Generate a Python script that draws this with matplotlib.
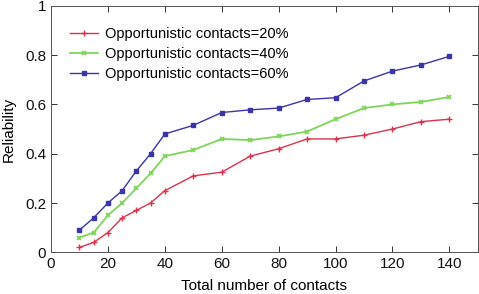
import matplotlib
matplotlib.use("Agg")
import matplotlib.pyplot as plt

plt.rcParams['font.family'] = ['Liberation Sans', 'DejaVu Sans']

contacts = [10, 15, 20, 25, 30, 35, 40, 50, 60, 70, 80, 90, 100, 110, 120, 130, 140]
rel_20 = [0.02, 0.04, 0.08, 0.14, 0.17, 0.20, 0.25, 0.31, 0.325, 0.39, 0.42, 0.46, 0.46, 0.475, 0.50, 0.53, 0.54]
rel_40 = [0.06, 0.08, 0.15, 0.20, 0.26, 0.32, 0.39, 0.415, 0.46, 0.455, 0.47, 0.49, 0.54, 0.585, 0.60, 0.61, 0.63]
rel_60 = [0.09, 0.14, 0.20, 0.25, 0.33, 0.40, 0.48, 0.515, 0.567, 0.578, 0.585, 0.62, 0.627, 0.695, 0.735, 0.76, 0.795]
labels = ['Opportunistic contacts=20%', 'Opportunistic contacts=40%', 'Opportunistic contacts=60%']

fig = plt.figure(figsize=(4.79, 2.94), dpi=100)
ax = fig.add_axes([51 / 479, 1 - 252.3 / 294, (477.8 - 51) / 479, (252.3 - 5.8) / 294])

ax.plot(contacts, rel_20, color='#d8344e', marker='+', ms=4, mew=1.0, lw=1.0, label=labels[0])
ax.plot(contacts, rel_40, color='#80d45a', marker='x', ms=3.5, mew=1.3, lw=1.3, label=labels[1])
ax.plot(contacts, rel_60, color='#3a35a8', marker='s', ms=3.5, lw=1.0, label=labels[2])

ax.set_xlim(0, 150)
ax.set_ylim(0, 1)
ax.set_xticks(range(0, 141, 20))
ax.set_yticks([0, 0.2, 0.4, 0.6, 0.8, 1])
ax.set_yticklabels(['0', '0.2', '0.4', '0.6', '0.8', '1'])
ax.tick_params(direction='in', top=True, right=True, labelsize=11, length=4, width=0.6, colors='#111111')
for s in ax.spines.values():
    s.set_linewidth(0.7)
    s.set_color('#555555')

ax.set_xlabel('Total number of contacts', fontsize=11, labelpad=6)
ax.set_ylabel('Reliability', fontsize=11, labelpad=7)

ax.legend(loc='upper left', frameon=False, fontsize=10.5, handlelength=1.9, handletextpad=0.5,
          labelspacing=0.42, bbox_to_anchor=(0.025, 0.95), borderaxespad=0.2)

fig.savefig('out.png', dpi=100)
